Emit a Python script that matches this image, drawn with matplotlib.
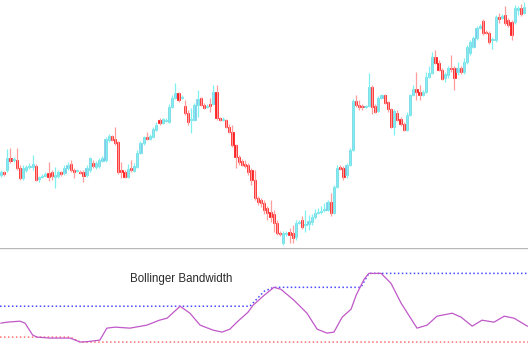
#!/usr/bin/env python3
import numpy as np
import matplotlib
matplotlib.use('Agg')
import matplotlib.pyplot as plt

# candle levels (smaller = higher on the chart)
opens = [175, 172, 170, 158, 160, 160, 168, 178, 170, 167, 167, 166, 179, 177, 176, 173, 172, 177, 176, 172,
         173, 168, 164, 170, 171, 172, 172, 175, 170, 163, 167, 166, 161, 160, 140, 136, 139, 142, 170, 172,
         177, 168, 171, 167, 153, 143, 137, 139, 137, 130, 120, 123, 121, 122, 107, 98, 93, 98, 106, 113,
         120, 120, 105, 98, 105, 107, 104, 104, 92, 118, 120, 120, 127, 132, 145, 157, 161, 164, 165, 170,
         180, 198, 200, 203, 208, 212, 214, 223, 233, 243, 234, 232, 233, 237, 223, 220, 225, 224, 222, 217,
         213, 212, 210, 210, 202, 213, 187, 167, 168, 175, 165, 150, 101, 105, 106, 107, 106, 87, 106, 111,
         98, 95, 102, 109, 127, 113, 119, 124, 130, 115, 95, 89, 92, 95, 92, 77, 73, 57, 63, 70,
         78, 75, 68, 68, 72, 68, 72, 62, 53, 47, 38, 28, 21, 32, 33, 40, 40, 17, 18, 15,
         20, 22, 22, 10, 8, 13]
closes = [172, 174, 158, 161, 159, 168, 178, 168, 167, 166, 164, 180, 177, 176, 174, 177, 176, 175, 172, 174,
          168, 165, 170, 172, 170, 173, 176, 168, 158, 166, 163, 160, 158, 139, 136, 140, 143, 172, 172, 177,
          169, 170, 166, 153, 143, 137, 139, 136, 129, 125, 123, 119, 120, 107, 98, 93, 100, 97, 113, 122,
          119, 105, 99, 105, 108, 106, 106, 92, 118, 120, 119, 127, 132, 145, 157, 162, 165, 166, 172, 180,
          198, 202, 203, 210, 213, 217, 223, 233, 234, 233, 233, 235, 238, 223, 222, 227, 224, 221, 217, 213,
          212, 211, 209, 202, 213, 187, 168, 169, 177, 165, 150, 101, 105, 107, 107, 106, 87, 107, 112, 98,
          95, 103, 109, 127, 111, 120, 124, 130, 115, 95, 89, 92, 95, 92, 77, 73, 57, 63, 70, 79,
          74, 68, 69, 78, 68, 72, 62, 47, 42, 38, 28, 26, 33, 33, 42, 39, 17, 19, 16, 23,
          25, 35, 8, 8, 14, 7]
highs = [170, 171, 149, 148, 157, 148, 165, 165, 165, 163, 155, 164, 176, 174, 172, 162, 170, 167, 170, 171,
         165, 162, 160, 168, 169, 170, 170, 165, 157, 160, 161, 158, 156, 137, 134, 135, 127, 141, 162, 170,
         164, 160, 163, 150, 141, 136, 132, 134, 127, 122, 118, 118, 118, 104, 95, 83, 92, 95, 100, 110,
         108, 103, 90, 97, 103, 104, 98, 85, 85, 117, 117, 119, 124, 125, 144, 155, 159, 160, 163, 168,
         170, 196, 198, 200, 206, 200, 210, 220, 231, 231, 231, 228, 225, 220, 220, 216, 210, 215, 214, 209,
         208, 206, 203, 200, 193, 185, 165, 165, 166, 163, 148, 99, 95, 100, 104, 105, 73, 85, 104, 96,
         94, 94, 101, 108, 109, 110, 117, 122, 112, 94, 85, 72, 85, 90, 72, 66, 52, 50, 60, 68,
         72, 66, 55, 66, 62, 66, 58, 45, 40, 36, 26, 24, 19, 30, 31, 37, 15, 13, 14, 6,
         18, 20, 5, 6, 4, 2]
lows = [177, 176, 172, 163, 162, 170, 180, 180, 172, 169, 170, 181, 182, 178, 176, 181, 180, 188, 178, 176,
        175, 170, 172, 178, 172, 174, 182, 177, 172, 168, 169, 168, 162, 162, 142, 141, 145, 174, 178, 178,
        178, 172, 172, 168, 154, 145, 140, 140, 138, 131, 125, 124, 122, 123, 108, 99, 102, 99, 115, 125,
        133, 121, 117, 106, 109, 108, 112, 105, 120, 121, 121, 128, 133, 147, 168, 165, 166, 168, 175, 185,
        200, 205, 207, 214, 220, 222, 232, 235, 236, 245, 236, 243, 243, 240, 224, 229, 232, 230, 225, 219,
        214, 214, 212, 211, 216, 214, 188, 170, 180, 178, 166, 151, 107, 110, 110, 108, 107, 114, 113, 112,
        99, 104, 112, 128, 135, 121, 126, 131, 131, 116, 96, 100, 100, 96, 93, 78, 74, 64, 71, 80,
        82, 78, 72, 90, 75, 74, 74, 64, 55, 48, 40, 29, 35, 34, 44, 49, 42, 23, 19, 25,
        27, 40, 24, 15, 16, 14]

# bandwidth line, upper and lower dotted levels (candle index, value)
bw_idx = [0, 1.9, 6, 7.6, 10, 11.4, 15.5, 21.8, 25, 27.4, 31.2, 33.4, 36, 40.7, 46, 50, 52.4, 56.5, 59.6,
          62.8, 66.9, 69.7, 72.2, 74.4, 77.9, 79.5, 83, 86.1, 88.3, 92.4, 96.5, 99.7, 102.8, 105, 107.6,
          110.4, 112, 114.5, 116, 119.9, 123, 126.2, 128, 131.2, 134.4, 137.5, 142.3, 145.1, 148.6, 151.7,
          155.5, 158.7, 161.8, 166]
bw_val = [0.27, 0.28, 0.29, 0.27, 0.15, 0.13, 0.12, 0.12, 0.08, 0.085, 0.10, 0.22, 0.23, 0.22, 0.25, 0.30,
          0.32, 0.44, 0.37, 0.25, 0.20, 0.18, 0.21, 0.28, 0.38, 0.45, 0.55, 0.63, 0.61, 0.50, 0.37, 0.21,
          0.17, 0.18, 0.33, 0.41, 0.55, 0.71, 0.77, 0.77, 0.67, 0.47, 0.38, 0.22, 0.25, 0.34, 0.37, 0.33,
          0.24, 0.30, 0.28, 0.34, 0.32, 0.24]
upper_idx = [-0.3, 78.5, 83, 86, 113.5, 116, 166.2]
upper_val = [0.44, 0.44, 0.59, 0.63, 0.63, 0.77, 0.77]
lower_idx = [-0.3, 21.8, 25, 166.2]
lower_val = [0.13, 0.13, 0.08, 0.08]

o = np.array(opens)
c = np.array(closes)
x = np.arange(len(o))
up = c <= o

fig = plt.figure(figsize=(5.28, 3.58), dpi=100)
ax = fig.add_axes([0, 110 / 358, 1, 248 / 358])
ax2 = fig.add_axes([0, 0, 1, 110 / 358])

wick_col = np.where(up, '#7ff0f0', '#ff9c9c')
ax.vlines(x, highs, lows, colors=wick_col, lw=0.9)
body_col = np.where(up, '#84c2ee', '#ff1010')
edge_col = np.where(up, '#6ad8e0', '#ff1010')
height = np.maximum(np.abs(c - o), 1)
ax.bar(x, height, bottom=np.minimum(o, c), width=0.72, color=body_col,
       edgecolor=edge_col, linewidth=0.5)
ax.set_xlim(-0.3, 166.2)
ax.set_ylim(248, 0)
ax.axis('off')

ax2.plot(upper_idx, upper_val, color='#4a4aff', lw=1.1, ls=(0, (1, 1.6)))
ax2.plot(lower_idx, lower_val, color='#ff7070', lw=1.1, ls=(0, (1, 1.6)))
ax2.plot(bw_idx, bw_val, color='#c058c8', lw=0.9)
ax2.axhline(1.02, color='#b8b8b8', lw=1)
ax2.text(40.7, 0.71, 'Bollinger Bandwidth', fontsize=8.3, family='Liberation Sans',
         color='#2a2a2a', va='center')
ax2.set_xlim(-0.3, 166.2)
ax2.set_ylim(-0.08, 1.025)
ax2.axis('off')

plt.savefig('out.png', dpi=100)
